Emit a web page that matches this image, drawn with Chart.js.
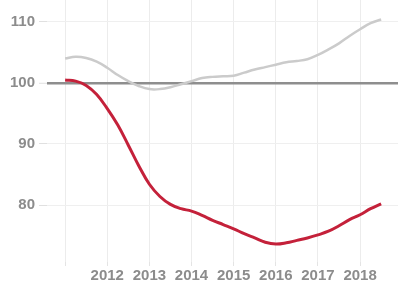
<!DOCTYPE html>
<html>
<head>
<meta charset="utf-8">
<script src="https://cdn.jsdelivr.net/npm/chart.js@4/dist/chart.umd.min.js"></script>
<style>
  html, body { margin: 0; padding: 0; background: #fff; }
  #wrap { width: 398px; height: 282px; }
</style>
</head>
<body>
<div id="wrap"><canvas id="chart"></canvas></div>
<script>
// quarters, 2011 Q1 .. 2018 Q3 (as decimal years)
var quarters = [
  2011.00, 2011.25, 2011.50, 2011.75,
  2012.00, 2012.25, 2012.50, 2012.75,
  2013.00, 2013.25, 2013.50, 2013.75,
  2014.00, 2014.25, 2014.50, 2014.75,
  2015.00, 2015.25, 2015.50, 2015.75,
  2016.00, 2016.25, 2016.50, 2016.75,
  2017.00, 2017.25, 2017.50, 2017.75,
  2018.00, 2018.25, 2018.50
];
var graySeries = [
  104.0, 104.3, 104.1, 103.5,
  102.5, 101.3, 100.3, 99.5,
  99.0, 99.0, 99.3, 99.8,
  100.3, 100.8, 101.0, 101.1,
  101.2, 101.7, 102.2, 102.6,
  103.0, 103.4, 103.6, 103.9,
  104.6, 105.5, 106.5, 107.7,
  108.8, 109.8, 110.4
];
var redSeries = [
  100.5, 100.3, 99.6, 98.1,
  95.8, 93.1, 89.8, 86.4,
  83.4, 81.4, 80.1, 79.4,
  79.0, 78.3, 77.5, 76.8,
  76.1, 75.3, 74.6, 73.9,
  73.6, 73.8, 74.2, 74.6,
  75.1, 75.7, 76.6, 77.6,
  78.4, 79.4, 80.2
];
var yearTicks = [2011, 2012, 2013, 2014, 2015, 2016, 2017, 2018];
var valueTicks = [80, 90, 100, 110];
var baseline = 100;

function pts(vals) {
  return vals.map(function (v, i) { return { x: quarters[i], y: v }; });
}

new Chart(document.getElementById("chart"), {
  type: 'line',
  data: {
    datasets: [{
      data: pts(graySeries),
      borderColor: "#cbcbcb",
      borderWidth: 2.5,
      pointRadius: 0,
      tension: 0.4,
      fill: false
    }, {
      data: pts(redSeries),
      borderColor: "#c4213a",
      borderWidth: 3,
      pointRadius: 0,
      tension: 0.4,
      fill: false
    }]
  },
  options: {
    responsive: true,
    maintainAspectRatio: false,
    animation: false,
    layout: { padding: 0 },
    plugins: {
      legend: { display: false },
      tooltip: { enabled: false }
    },
    scales: {
      x: {
        type: 'linear',
        min: 2010.57,
        max: 2018.9,
        afterBuildTicks: function (scale) {
          scale.ticks = yearTicks.map(function (v) { return { value: v }; });
        },
        afterFit: function (scale) {
          scale.height = 20;
          scale.paddingLeft = 0;
          scale.paddingRight = 0;
        },
        border: { display: false },
        grid: { color: "#ececec", tickLength: 4, tickColor: "#e4e4e4" },
        ticks: {
          padding: 1,
          maxRotation: 0,
          autoSkip: false,
          color: "#8c8c8c",
          font: { family: "Liberation Sans", size: 15, weight: 'bold' },
          callback: function (v) { return v == 2011 ? '' : String(v); }
        }
      },
      y: {
        min: 70.66,
        max: 113.6,
        afterBuildTicks: function (scale) {
          scale.ticks = valueTicks.map(function (v) { return { value: v }; });
        },
        afterFit: function (scale) {
          scale.width = 47;
          scale.paddingTop = 0;
          scale.paddingBottom = 0;
        },
        border: { display: false },
        grid: {
          color: function (ctx) { return ctx.tick && ctx.tick.value == baseline ? "#8e8e8e" : "#efefef"; },
          lineWidth: function (ctx) { return ctx.tick && ctx.tick.value == baseline ? 2.5 : 1; },
          tickColor: "#e0e0e0",
          tickWidth: 1,
          tickLength: 8
        },
        ticks: {
          padding: 4,
          color: "#8c8c8c",
          font: { family: "Liberation Sans", size: 15, weight: 'bold' }
        }
      }
    }
  }
});
</script>
</body>
</html>
